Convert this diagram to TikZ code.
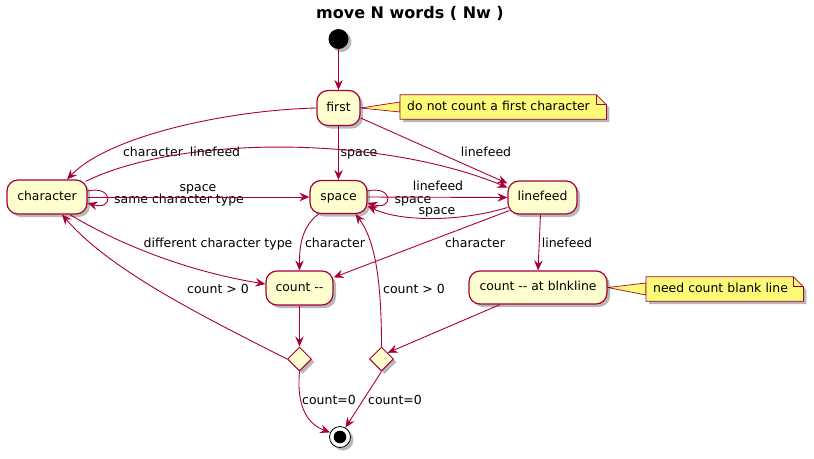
\documentclass[tikz,border=0pt]{standalone}
\usepackage{fontspec}
\setmainfont{DejaVu Sans}
\usetikzlibrary{arrows.meta,shapes.geometric,shadows,calc}
\definecolor{pured}{HTML}{A80036}
\definecolor{pubox}{HTML}{FEFECE}
\definecolor{punote}{HTML}{FBFB77}
\pgfdeclarelayer{bg}
\pgfdeclarelayer{canvas}
\pgfsetlayers{canvas,bg,main}
\begin{document}
\begin{tikzpicture}[x=1pt,y=-1pt,
  shad/.style={drop shadow={shadow xshift=3pt,shadow yshift=-3pt,opacity=0.28,fill=black}},
  state/.style={draw=pured,fill=pubox,line width=1.2pt,rounded corners=11pt,inner sep=0pt,
    font=\fontsize{12.4}{14}\selectfont,text height=9pt,text depth=2.5pt,shad},
  decision/.style={diamond,draw=pured,fill=pubox,line width=1pt,minimum width=24pt,
    minimum height=24pt,inner sep=0pt,shad},
  notetxt/.style={anchor=west,inner xsep=7pt,inner ysep=0pt,align=left,font=\fontsize{12.4}{14}\selectfont,
    text height=9pt,text depth=2.5pt,minimum height=24pt},
  notebox/.style={draw=pured,fill=punote,line width=0.8pt,shad},
  notefold/.style={draw=pured,line width=0.8pt},
  wedge/.style={draw=pured,fill=punote,line width=0.7pt},
  arr/.style={draw=pured,line width=0.9pt,-{Stealth[length=10pt,width=8.5pt,inset=3.5pt]}},
  lbl/.style={font=\fontsize{12.5}{14}\selectfont,inner sep=0pt,text height=9pt,text depth=0pt,text=black}
]
\useasboundingbox (0,0) rectangle (814,458);
\begin{pgfonlayer}{canvas}
\fill[white] (0,0) rectangle (814,458);
\end{pgfonlayer}

% title
\node[font=\fontsize{16}{18}\selectfont\bfseries,inner sep=0pt] (title) at (410,13) {move N words ( Nw )};

% nodes
\node[circle,fill=black,minimum size=20pt,inner sep=0pt,shad] (start) at (338.5,39) {};
\node[state,minimum width=43pt,minimum height=35pt] (first) at (338.5,108) {first};
\node[state,minimum width=80pt,minimum height=34pt] (char) at (47,197) {character};
\node[state,minimum width=57pt,minimum height=33pt] (space) at (338.5,197) {space};
\node[state,minimum width=69pt,minimum height=33pt] (lf) at (542.5,197.5) {linefeed};
\node[state,minimum width=67pt,minimum height=34pt] (cnt) at (299.5,288) {count -{}-};
\node[state,minimum width=138pt,minimum height=33pt] (blnk) at (538,287.5) {count -{}- at blnkline};
\node[decision] (d1) at (299.5,359) {};
\node[decision] (d2) at (381.5,359) {};
\node[circle,draw=black,fill=white,line width=0.8pt,minimum size=21pt,inner sep=0pt,shad] (end) at (340,437) {};
\fill[black] (end.center) circle (6.3);

% notes
\node[notetxt,text width=192pt] (note1) at (400,107) {do not count a first character};
\node[notetxt,text width=143pt] (note2) at (646,289) {need count blank line};
\begin{pgfonlayer}{bg}
\draw[wedge] (first.east) -- ($(note1.west)+(0,-5)$) -- ($(note1.west)+(0,5)$) -- cycle;
\draw[wedge] (blnk.east) -- ($(note2.west)+(0,-6)$) -- ($(note2.west)+(0,6)$) -- cycle;
\draw[notebox] (note1.south west) -- (note1.north west) -- ($(note1.north east)+(-10,0)$)
  -- ($(note1.north east)+(0,10)$) -- (note1.south east) -- cycle;
\draw[notefold] ($(note1.north east)+(-10,0)$) -- ($(note1.north east)+(-10,10)$) -- ($(note1.north east)+(0,10)$);
\draw[notebox] (note2.south west) -- (note2.north west) -- ($(note2.north east)+(-10,0)$)
  -- ($(note2.north east)+(0,10)$) -- (note2.south east) -- cycle;
\draw[notefold] ($(note2.north east)+(-10,0)$) -- ($(note2.north east)+(-10,10)$) -- ($(note2.north east)+(0,10)$);
\end{pgfonlayer}

% connectors
\draw[arr] (start) -- (first);
\draw[arr] (first.west) .. controls (230,110) and (110,135) .. ($(char.north)+(20,0)$)
  node[lbl] at (153,152) {character};
\draw[arr] (first.south) -- (space.north) node[lbl] at (359,152) {space};
\draw[arr] ($(first.east)+(0,10)$) -- ($(lf.north west)+(0,3)$) node[lbl] at (486,152) {linefeed};
\draw[arr] ($(char.north east)+(-2,2)$) .. controls (180,135) and (380,135) .. ($(lf.west)+(0,-10)$)
  node[lbl] at (215,152) {linefeed};
\draw[arr] ($(char.east)+(0,-6)$) .. controls +(26,-6) and +(26,8) .. ($(char.east)+(0,6)$)
  node[lbl] at (179,199) {same character type};
\draw[arr] (char.east) -- (space.west) node[lbl] at (198,187) {space};
\draw[arr] ($(space.east)+(0,-6)$) .. controls +(26,-6) and +(26,8) .. ($(space.east)+(0,6)$)
  node[lbl] at (413,199) {space};
\draw[arr] (space.east) -- (lf.west) node[lbl] at (438,186) {linefeed};
\draw[arr] ($(lf.west)+(0,10)$) .. controls (460,222) and (400,222) .. ($(space.east)+(0,9)$)
  node[lbl] at (437,210) {space};
\draw[arr] ($(char.south)+(23,0)$) .. controls (120,245) and (190,272) .. ($(cnt.west)+(0,-4)$)
  node[lbl] at (218,243) {different character type};
\draw[arr] ($(space.south)+(-20,0)$) .. controls (300,228) and (299.5,250) .. (cnt.north)
  node[lbl] at (335,243) {character};
\draw[arr] ($(lf.west)+(2,13)$) -- ($(cnt.north east)+(0,7)$) node[lbl] at (475,243) {character};
\draw[arr] ($(lf.south)+(-2,0)$) -- (blnk.north) node[lbl] at (567,243) {linefeed};
\draw[arr] (cnt.south) -- (d1.north);
\draw[arr] ($(blnk.south)+(-38,0)$) -- (d2.north east);
\draw[arr] (d1.west) .. controls (200,315) and (110,270) .. ($(char.south)+(15,0)$)
  node[lbl] at (218,289) {count > 0};
\draw[arr] (d2.north) .. controls (381.5,280) and (375,240) .. ($(space.south)+(17,0)$)
  node[lbl] at (414,289) {count > 0};
\draw[arr] (d1.south) .. controls (296,410) and (310,425) .. (end.155)
  node[lbl] at (329,400) {count=0};
\draw[arr] (d2.south) -- (end.60) node[lbl] at (395,400) {count=0};
\end{tikzpicture}
\end{document}
